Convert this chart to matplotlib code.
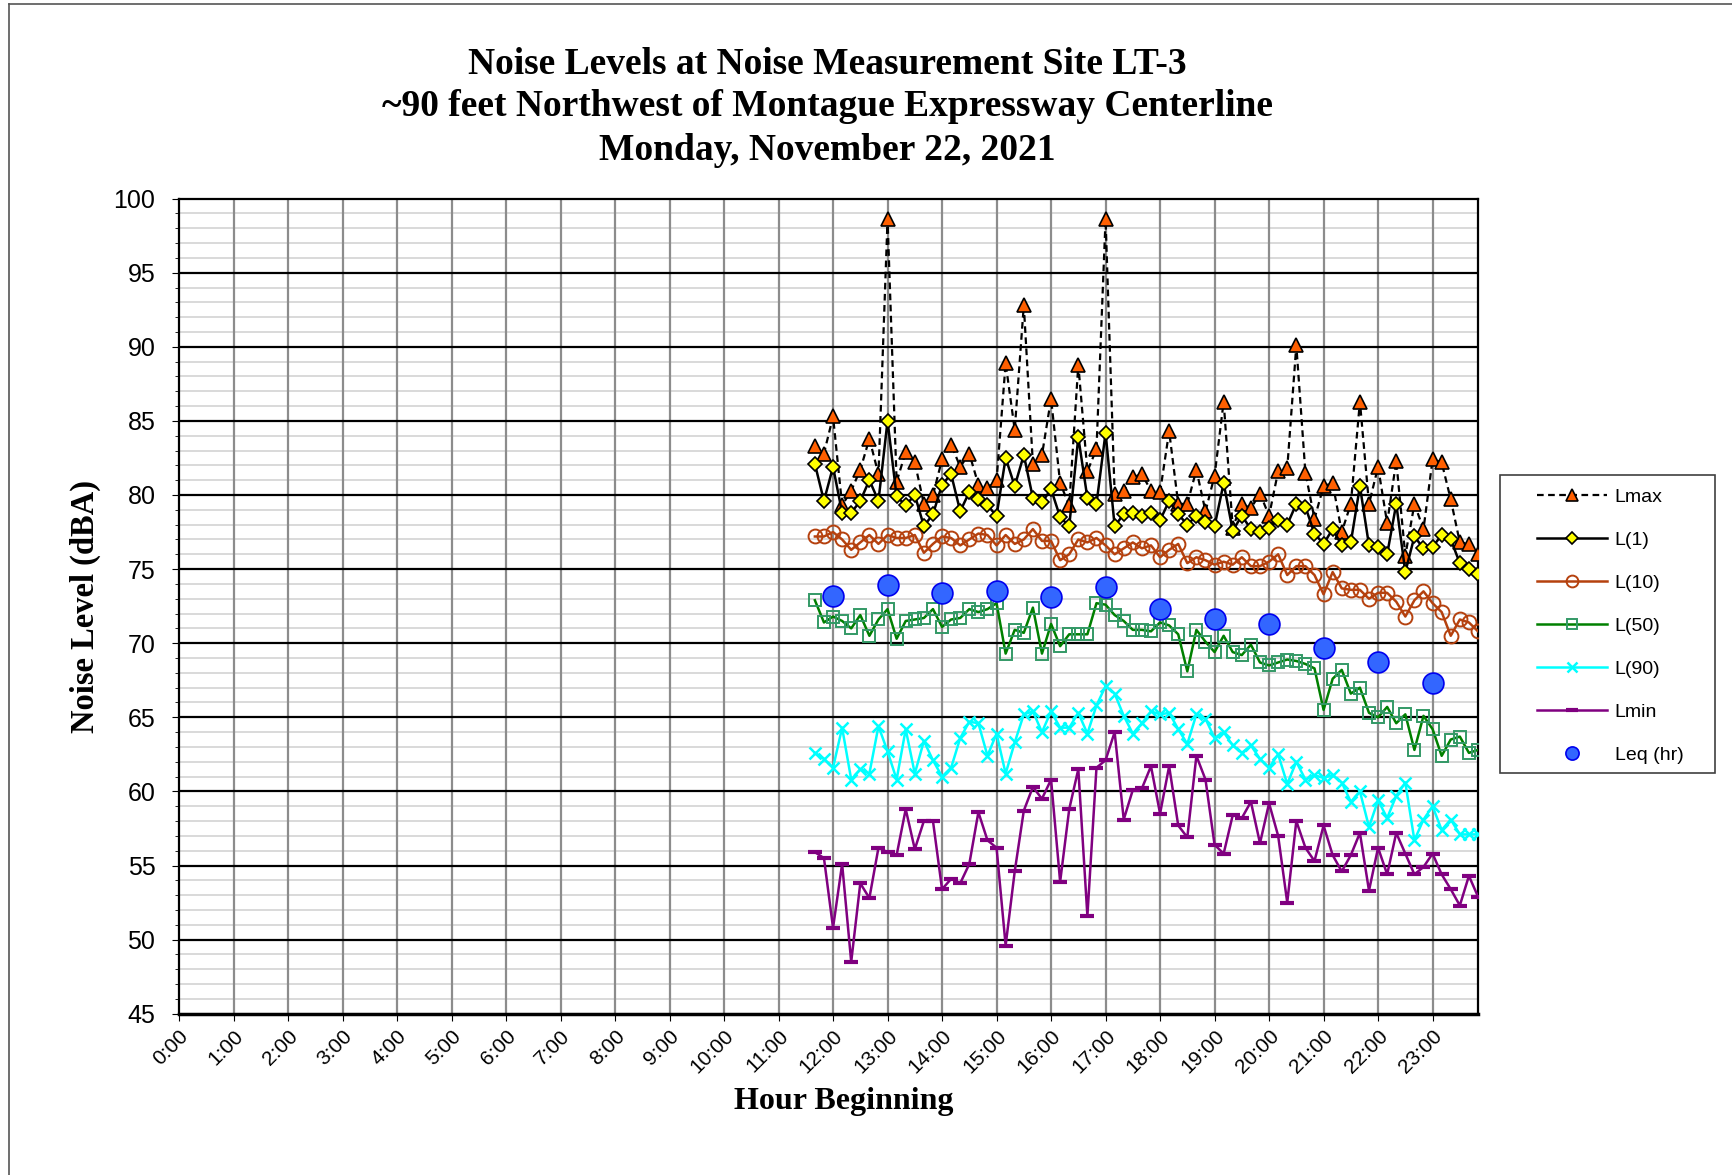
import matplotlib
matplotlib.use("Agg")
import matplotlib.pyplot as plt
from matplotlib.lines import Line2D
from matplotlib.patches import Rectangle
from matplotlib.ticker import MultipleLocator
import numpy as np

# 10-minute intervals from 11:40 to 23:50 (hours)
start_hour = 11 + 40 / 60
step_hour = 10 / 60
n_pts = 74
times = start_hour + step_hour * np.arange(n_pts)

lmax = [83.3, 82.8, 85.3, 79.3, 80.3, 81.7, 83.8, 81.4, 98.6, 80.9,
        82.9, 82.2, 79.4, 80.0, 82.4, 83.4, 81.9, 82.8, 80.7, 80.5,
        81.0, 88.9, 84.4, 92.8, 82.1, 82.7, 86.5, 80.8, 79.3, 88.8,
        81.6, 83.1, 98.6, 80.1, 80.3, 81.2, 81.4, 80.3, 80.2, 84.3,
        79.4, 79.4, 81.7, 78.9, 81.3, 86.3, 77.8, 79.4, 79.1, 80.1,
        78.6, 81.6, 81.8, 90.1, 81.5, 78.4, 80.6, 80.8, 77.5, 79.4,
        86.3, 79.4, 81.9, 78.1, 82.3, 75.9, 79.4, 77.7, 82.4, 82.2,
        79.7, 76.8, 76.7, 76.0]
l1 = [82.1, 79.6, 81.9, 78.8, 78.8, 79.6, 81.0, 79.6, 85.0, 79.9,
      79.3, 80.0, 77.9, 78.7, 80.7, 81.4, 78.9, 80.2, 79.7, 79.3,
      78.6, 82.5, 80.6, 82.7, 79.8, 79.5, 80.4, 78.5, 77.9, 83.9,
      79.8, 79.4, 84.2, 77.9, 78.7, 78.8, 78.6, 78.8, 78.3, 79.6,
      78.7, 78.0, 78.6, 78.2, 77.9, 80.8, 77.6, 78.6, 77.7, 77.5,
      77.8, 78.3, 78.0, 79.4, 79.2, 77.4, 76.7, 77.7, 76.6, 76.8,
      80.6, 76.6, 76.5, 76.0, 79.4, 74.8, 77.2, 76.4, 76.5, 77.3,
      77.0, 75.4, 75.0, 74.7]
l10 = [77.2, 77.2, 77.5, 77.0, 76.3, 76.8, 77.3, 76.7, 77.3, 77.1,
       77.1, 77.3, 76.1, 76.7, 77.2, 77.1, 76.6, 77.0, 77.4, 77.3,
       76.6, 77.3, 76.7, 77.0, 77.7, 76.9, 76.9, 75.6, 76.0, 77.0,
       76.8, 77.1, 76.6, 76.0, 76.4, 76.8, 76.4, 76.6, 75.8, 76.3,
       76.7, 75.4, 75.8, 75.6, 75.3, 75.5, 75.3, 75.8, 75.2, 75.2,
       75.5, 76.0, 74.6, 75.2, 75.2, 74.6, 73.3, 74.8, 73.7, 73.6,
       73.6, 73.0, 73.4, 73.4, 72.8, 71.8, 72.9, 73.5, 72.7, 72.1,
       70.5, 71.6, 71.4, 70.8]
l50 = [72.9, 71.4, 71.8, 71.5, 71.0, 71.9, 70.5, 71.6, 72.3, 70.3,
       71.5, 71.6, 71.7, 72.3, 71.1, 71.6, 71.7, 72.3, 72.1, 72.3,
       72.7, 69.3, 70.9, 70.7, 72.4, 69.3, 71.3, 69.8, 70.6, 70.6,
       70.6, 72.7, 72.6, 71.9, 71.5, 70.9, 70.9, 70.8, 71.4, 71.2,
       70.6, 68.1, 70.9, 70.1, 69.4, 70.5, 69.4, 69.2, 69.9, 68.7,
       68.5, 68.7, 68.9, 68.8, 68.6, 68.3, 65.5, 67.6, 68.2, 66.6,
       67.0, 65.3, 65.0, 65.7, 64.6, 65.2, 62.8, 65.1, 64.2, 62.4,
       63.5, 63.7, 62.6, 62.8]
l90 = [62.6, 62.2, 61.6, 64.3, 60.8, 61.5, 61.2, 64.4, 62.7, 60.8,
       64.2, 61.2, 63.4, 62.1, 61.0, 61.6, 63.6, 64.7, 64.6, 62.4,
       63.9, 61.2, 63.3, 65.2, 65.4, 64.0, 65.4, 64.3, 64.3, 65.3,
       63.9, 65.8, 67.1, 66.6, 65.1, 63.9, 64.6, 65.4, 65.2, 65.3,
       64.2, 63.2, 65.2, 64.9, 63.6, 64.0, 63.1, 62.6, 63.1, 62.2,
       61.6, 62.5, 60.5, 62.0, 60.8, 61.1, 60.9, 61.1, 60.6, 59.3,
       60.0, 57.6, 59.4, 58.2, 59.7, 60.6, 56.7, 58.1, 59.0, 57.4,
       58.1, 57.1, 57.1, 57.1]
lmin = [55.9, 55.5, 50.8, 55.1, 48.5, 53.8, 52.8, 56.2, 55.9, 55.7,
        58.8, 56.1, 58.0, 58.0, 53.4, 54.1, 53.8, 55.1, 58.6, 56.7,
        56.2, 49.6, 54.6, 58.7, 60.3, 59.5, 60.8, 53.9, 58.8, 61.5,
        51.6, 61.6, 62.1, 64.0, 58.1, 60.1, 60.2, 61.7, 58.5, 61.7,
        57.7, 56.9, 62.4, 60.8, 56.4, 55.8, 58.4, 58.2, 59.3, 56.5,
        59.2, 57.0, 52.5, 58.0, 56.2, 55.3, 57.7, 55.7, 54.6, 55.7,
        57.2, 53.3, 56.2, 54.4, 57.2, 55.8, 54.4, 54.9, 55.8, 54.4,
        53.4, 52.3, 54.3, 52.9]

leq_hours = [12, 13, 14, 15, 16, 17, 18, 19, 20, 21, 22, 23]
leq = [73.2, 73.9, 73.4, 73.5, 73.1, 73.8, 72.3, 71.6, 71.3, 69.7, 68.7, 67.3]

hour_labels = [f"{h}:00" for h in range(24)]

serif = ["Liberation Serif", "DejaVu Serif"]
sans = ["Liberation Sans", "DejaVu Sans"]
plt.rcParams["font.family"] = sans

W, H = 1732, 1175
fig = plt.figure(figsize=(W / 100, H / 100), dpi=100)
ax = fig.add_axes([179 / W, 1 - 1013.7 / H, (1478 - 179) / W, (1013.7 - 198.6) / H])

# grid
ax.set_xlim(0, 23 + 50 / 60)
ax.set_ylim(45, 100)
for y in range(46, 100):
    if y % 5:
        ax.axhline(y, color="#d9d9d9", lw=1.4, zorder=0)
for h in range(1, 24):
    ax.axvline(h, color="#8c8c8c", lw=1.6, zorder=0.5)
for y in range(50, 100, 5):
    ax.axhline(y, color="black", lw=1.6, zorder=0.6)

ax.plot(times, lmax, color="black", ls=(0, (3, 2)), lw=1.6, marker="^", ms=10,
        mfc="#ff5f00", mec="black", mew=1.2, label="Lmax", zorder=5)
ax.plot(times, l1, color="black", lw=1.8, marker="D", ms=7.5,
        mfc="#ffff00", mec="black", mew=1.2, label="L(1)", zorder=6)
ax.plot(times, l10, color="#b5410e", lw=1.8, marker="o", ms=10,
        mfc="none", mec="#b5410e", mew=1.4, label="L(10)", zorder=4)
ax.plot(times, l50, color="#008000", lw=1.8, marker="s", ms=9,
        mfc="none", mec="#339966", mew=1.4, label="L(50)", zorder=4)
ax.plot(times, l90, color="#00ffff", lw=1.8, marker="x", ms=9,
        mec="#00ffff", mew=1.8, label="L(90)", zorder=4)
ax.plot(times, lmin, color="#800080", lw=1.8, marker="_", ms=10,
        mec="#800080", mew=3, label="Lmin", zorder=4)
ax.plot(leq_hours, leq, ls="none", marker="o", ms=15, mfc="#3366ff",
        mec="#0000ee", mew=1.2, label="Leq (hr)", zorder=7)

for side in ["left", "right", "top", "bottom"]:
    ax.spines[side].set_color("black")
    ax.spines[side].set_linewidth(1.6)
ax.spines["bottom"].set_linewidth(2.5)

ax.set_yticks(range(45, 101, 5))
ax.yaxis.set_minor_locator(MultipleLocator(1))
ax.tick_params(axis="y", which="major", labelsize=18, direction="out", length=5, pad=12)
ax.tick_params(axis="y", which="minor", direction="out", length=3)
ax.set_xticks(range(24))
ax.set_xticklabels(hour_labels, rotation=45, ha="right", rotation_mode="anchor", fontsize=15)
ax.tick_params(axis="x", direction="out", length=5, pad=4)

ax.set_xlabel("Hour Beginning", family=serif, fontsize=23, fontweight="bold")
ax.xaxis.set_label_coords(0.512, -0.09)
ax.set_ylabel("Noise Level (dBA)", family=serif, fontsize=23.5, fontweight="bold")
ax.yaxis.set_label_coords(-0.06, 0.5)

title_lines = ["Noise Levels at Noise Measurement Site LT-3",
               "~90 feet Northwest of Montague Expressway Centerline",
               "Monday, November 22, 2021"]
for k, line in enumerate(title_lines):
    fig.text(827 / W, 1 - (64 + 43 * k) / H, line, family=serif, fontsize=27,
             fontweight="bold", ha="center", va="center")

# legend: frame drawn separately so the padding matches the original box
fig.add_artist(Rectangle((1500 / W, 1 - 773 / H), 215 / W, 298 / H, transform=fig.transFigure,
                         fill=False, edgecolor="#404040", lw=1.2))
leg = fig.legend(loc="upper left", bbox_to_anchor=(1537 / W, 1 - 488 / H),
                 fontsize=14, frameon=False, handlelength=3.6, labelspacing=1.31,
                 borderpad=0, handletextpad=0.4, borderaxespad=0, markerscale=0.85)
leg.legend_handles[-1].set_markersize(9.5)

# page border
fig.add_artist(Line2D([0.005, 0.005], [0, 0.997], transform=fig.transFigure, color="#555555", lw=1.2))
fig.add_artist(Line2D([0.005, 1.0], [0.997, 0.997], transform=fig.transFigure, color="#555555", lw=1.2))

fig.savefig("out.png", dpi=100)
